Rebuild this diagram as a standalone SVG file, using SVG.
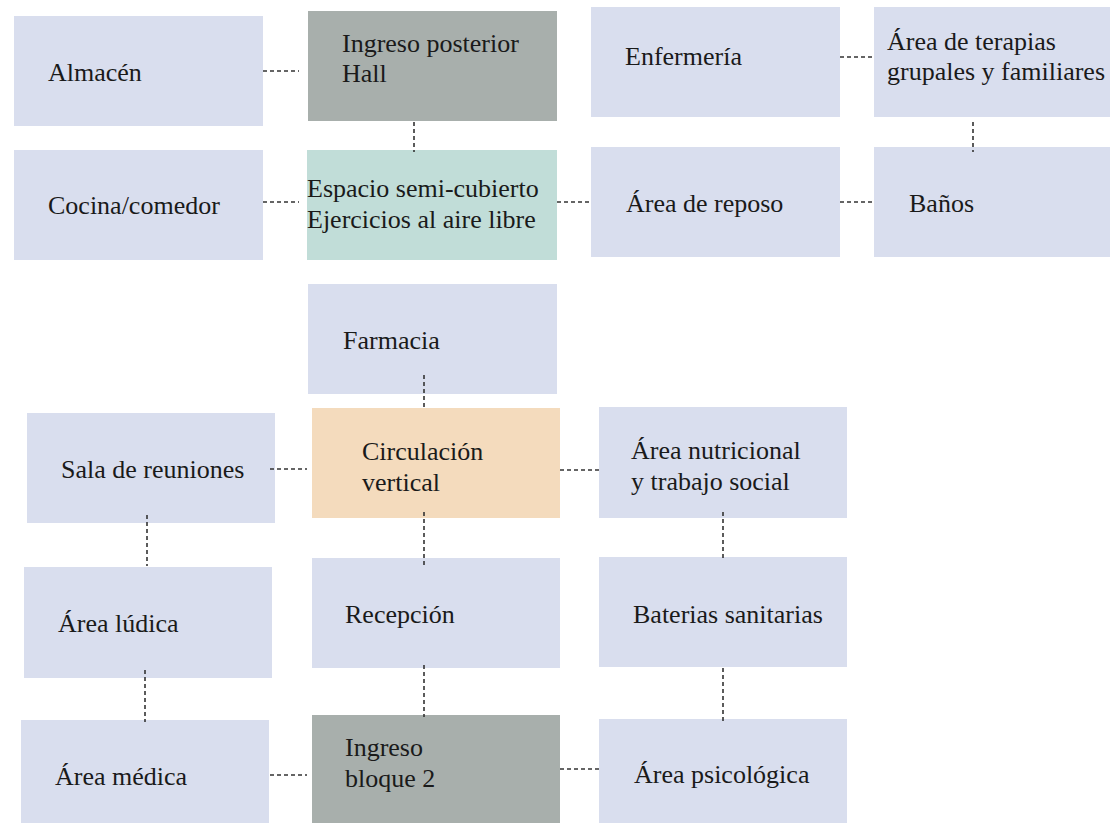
<svg xmlns="http://www.w3.org/2000/svg" width="1110" height="823" viewBox="0 0 1110 823">
<style>
.b{fill:#D9DEEE}
.g{fill:#A8AFAC}
.t{fill:#C1DDD8}
.p{fill:#F4DBBD}
text{font-family:"Liberation Serif","DejaVu Serif",serif;font-size:26px;fill:#1a1a1a}
.c line{stroke:#333;stroke-width:1.6;stroke-dasharray:4 3;fill:none}
</style>
<rect width="1110" height="823" fill="#fff"/>
<g id="almacen"><rect class="b" x="14" y="16" width="249" height="110"/><text x="48" y="81">Almacén</text></g>
<g id="ingreso-posterior"><rect class="g" x="308" y="11" width="249" height="110"/><text x="342" y="52">Ingreso posterior</text><text x="342" y="82">Hall</text></g>
<g id="enfermeria"><rect class="b" x="591" y="7" width="249" height="110"/><text x="625" y="65">Enfermería</text></g>
<g id="terapias"><rect class="b" x="874" y="7" width="236" height="110"/><text x="887" y="50">Área de terapias</text><text x="887" y="80">grupales y familiares</text></g>
<g id="cocina"><rect class="b" x="14" y="150" width="249" height="110"/><text x="48" y="214">Cocina/comedor</text></g>
<g id="espacio"><rect class="t" x="307" y="150" width="250" height="110"/><text x="307" y="197">Espacio semi-cubierto</text><text x="307" y="228">Ejercicios al aire libre</text></g>
<g id="reposo"><rect class="b" x="591" y="147" width="249" height="110"/><text x="626" y="212">Área de reposo</text></g>
<g id="banos"><rect class="b" x="874" y="147" width="236" height="110"/><text x="909" y="212">Baños</text></g>
<g id="farmacia"><rect class="b" x="308" y="284" width="249" height="110"/><text x="343" y="349">Farmacia</text></g>
<g id="circulacion"><rect class="p" x="312" y="408" width="248" height="110"/><text x="362" y="460">Circulación</text><text x="362" y="491">vertical</text></g>
<g id="sala"><rect class="b" x="27" y="413" width="248" height="110"/><text x="61" y="478">Sala de reuniones</text></g>
<g id="nutricional"><rect class="b" x="599" y="407" width="248" height="111"/><text x="631" y="459">Área nutricional</text><text x="631" y="490">y trabajo social</text></g>
<g id="ludica"><rect class="b" x="24" y="567" width="248" height="111"/><text x="58" y="632">Área lúdica</text></g>
<g id="recepcion"><rect class="b" x="312" y="558" width="248" height="110"/><text x="345" y="623">Recepción</text></g>
<g id="baterias"><rect class="b" x="599" y="557" width="248" height="110"/><text x="633" y="623">Baterias sanitarias</text></g>
<g id="medica"><rect class="b" x="21" y="720" width="248" height="103"/><text x="55" y="785">Área médica</text></g>
<g id="ingreso-bloque2"><rect class="g" x="312" y="715" width="248" height="108"/><text x="345" y="756">Ingreso</text><text x="345" y="787">bloque 2</text></g>
<g id="psicologica"><rect class="b" x="599" y="719" width="248" height="104"/><text x="634" y="783">Área psicológica</text></g>
<g id="connectors" class="c">
<line x1="263" y1="71" x2="299" y2="71"/>
<line x1="414" y1="122" x2="414" y2="152"/>
<line x1="263" y1="202" x2="299" y2="202"/>
<line x1="557" y1="202" x2="591" y2="202"/>
<line x1="840" y1="57" x2="874" y2="57"/>
<line x1="973" y1="122" x2="973" y2="152"/>
<line x1="840" y1="202" x2="874" y2="202"/>
<line x1="424" y1="375" x2="424" y2="408"/>
<line x1="270" y1="469" x2="307" y2="469"/>
<line x1="560" y1="470" x2="599" y2="470"/>
<line x1="424" y1="512" x2="424" y2="566"/>
<line x1="147" y1="515" x2="147" y2="566"/>
<line x1="723" y1="512" x2="723" y2="559"/>
<line x1="145" y1="670" x2="145" y2="722"/>
<line x1="424" y1="665" x2="424" y2="717"/>
<line x1="723" y1="668" x2="723" y2="721"/>
<line x1="270" y1="775" x2="307" y2="775"/>
<line x1="560" y1="769" x2="599" y2="769"/>
</g>
</svg>
